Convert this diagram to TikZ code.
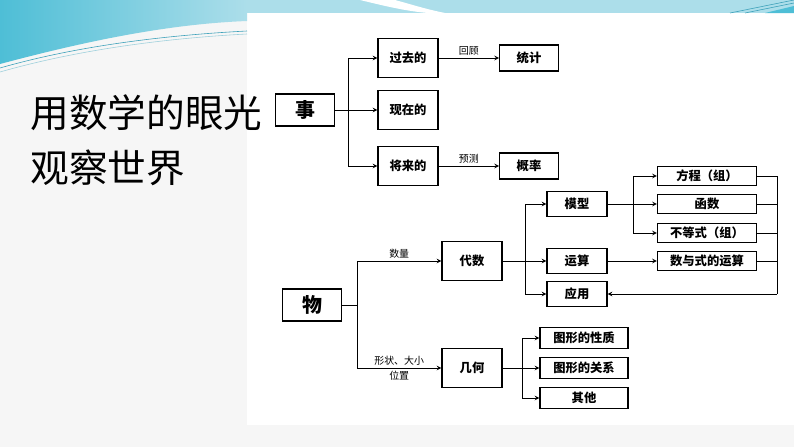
\documentclass[tikz,border=0pt]{standalone}
\usepackage{fontspec}
\setmainfont{Noto Sans CJK SC}
\usetikzlibrary{positioning}
\definecolor{bandblue}{RGB}{172,222,234}
\definecolor{swooshblue}{RGB}{78,190,214}
\definecolor{lineteal}{RGB}{60,160,185}
\definecolor{paper}{RGB}{246,246,246}

\begin{document}
\begin{tikzpicture}[x=0.03cm,y=-0.03cm,->,>=stealth,thick,
  box/.style={draw,line width=1pt,inner sep=0pt,font=\bfseries\fontsize{10.5}{12}\selectfont},
  root/.style={box,minimum width=1.75cm,minimum height=0.96cm,font=\bfseries\fontsize{17}{20}\selectfont},
  tall/.style={box,minimum width=1.8cm,minimum height=1.17cm},
  flat/.style={box,minimum width=1.76cm,minimum height=0.78cm},
  wide/.style={box,minimum width=2.97cm,minimum height=0.58cm},
  mid/.style={box,minimum width=1.8cm,minimum height=0.75cm},
  geo/.style={box,minimum width=2.64cm,minimum height=0.63cm},
  lbl/.style={font=\fontsize{8.5}{10}\selectfont,inner sep=2pt}]
  \useasboundingbox (0,0) rectangle (794,447);
  % background
  \fill[paper] (0,0) rectangle (794,447);
  \fill[white] (247,13) rectangle (794,425);
  \fill[bandblue] (0,0) rectangle (794,13);
  \shade[left color=swooshblue,right color=bandblue,draw=none]
    (0,0) -- (0,64) .. controls (90,40) and (170,24) .. (247,21) -- (247,0) -- cycle;
  \fill[white] (360,0) .. controls (385,6) and (405,11) .. (428,13)
    -- (445,13) .. controls (425,9) and (410,4) .. (395,0) -- cycle;
  \draw[-,lineteal,line width=0.5pt] (0,68) .. controls (80,45) and (170,35) .. (247,31);
  \draw[-,lineteal!50,line width=0.5pt] (0,72) .. controls (80,49) and (170,38) .. (247,34);
  \draw[-,lineteal,line width=0.5pt] (730,13) -- (794,0);
  \draw[-,lineteal,line width=0.5pt] (745,13) -- (794,3);
  \fill[swooshblue] (765,13) -- (794,13) -- (794,6) -- cycle;
  % title
  \node[anchor=west,align=left,inner sep=0pt,font=\fontsize{33}{47}\selectfont] (title) at (30,140)
    {用数学的眼光\\观察世界};

  % first tree
  \node[root] (shi)    at (305,110) {事};
  \node[tall] (past)   at (408,58)  {过去的};
  \node[tall] (now)    at (408,110) {现在的};
  \node[tall] (future) at (408,166) {将来的};
  \node[flat] (stat)   at (529,58)  {统计};
  \node[flat] (prob)   at (529,166) {概率};
  \coordinate (j1) at (348,110);
  \draw[-] (shi) -- (j1);
  \draw (j1) |- (past);
  \draw (j1) -- (now);
  \draw (j1) |- (future);
  \draw (past) -- node[lbl,above]{回顾} (stat);
  \draw (future) -- node[lbl,above]{预测} (prob);

  % second tree
  \node[root] (wu)      at (312,305) {物};
  \node[tall] (algebra) at (472,261) {代数};
  \node[tall] (geom)    at (472,368) {几何};
  \node[mid]  (model)   at (577,204) {模型};
  \node[mid]  (calc)    at (577,261) {运算};
  \node[mid]  (apply)   at (577,294) {应用};
  \node[wide] (eqn)     at (707,176) {方程（组）};
  \node[wide] (func)    at (707,204) {函数};
  \node[wide] (ineq)    at (707,233) {不等式（组）};
  \node[wide] (expr)    at (707,261) {数与式的运算};
  \node[geo]  (prop)    at (584,338) {图形的性质};
  \node[geo]  (rel)     at (584,368) {图形的关系};
  \node[geo]  (other)   at (584,398) {其他};
  \coordinate (j2) at (357,305);
  \coordinate (j3) at (525,261);
  \coordinate (j4) at (633,204);
  \coordinate (j5) at (522,368);
  \coordinate (r)  at (777,294);
  \draw[-] (wu) -- (j2);
  \draw (j2) |- node[lbl,pos=0.75,above]{数量} (algebra);
  \draw (j2) |- node[lbl,pos=0.75,above]{形状、大小}
               node[lbl,pos=0.75,below]{位置} (geom);
  \draw[-] (algebra) -- (j3);
  \draw (j3) |- (model);
  \draw (j3) -- (calc);
  \draw (j3) |- (apply);
  \draw[-] (model) -- (j4);
  \draw (j4) |- (eqn);
  \draw (j4) -- (func);
  \draw (j4) |- (ineq);
  \draw (calc) -- (expr);
  \draw[-] (eqn) -| (r);
  \draw[-] (func) -- (func -| r);
  \draw[-] (ineq) -- (ineq -| r);
  \draw[-] (expr) -- (expr -| r);
  \draw (r) -- (apply);
  \draw[-] (geom) -- (j5);
  \draw (j5) |- (prop);
  \draw (j5) -- (rel);
  \draw (j5) |- (other);
\end{tikzpicture}
\end{document}
